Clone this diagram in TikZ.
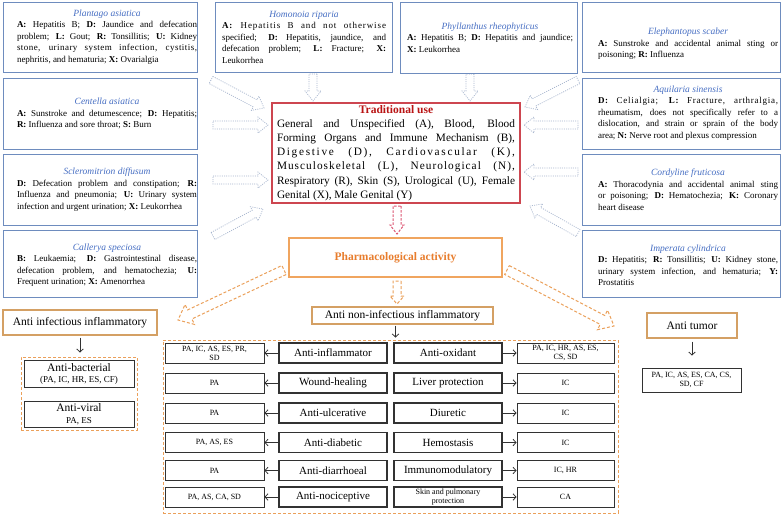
\documentclass[tikz,border=0pt]{standalone}
\usepackage{fontspec}
\setmainfont{Liberation Serif}
\usetikzlibrary{calc,arrows.meta,backgrounds}

\definecolor{spblue}{RGB}{110,140,190}
\definecolor{tblue}{RGB}{70,110,195}
\definecolor{tradred}{RGB}{205,70,80}
\definecolor{tradtitle}{RGB}{185,20,20}
\definecolor{phorange}{RGB}{240,165,95}
\definecolor{phtext}{RGB}{232,125,45}
\definecolor{tanbrd}{RGB}{212,160,100}
\definecolor{dashor}{RGB}{235,160,90}
\definecolor{arrgrey}{RGB}{165,180,205}
\definecolor{arrred}{RGB}{220,85,115}
\definecolor{boxdark}{RGB}{50,50,50}

\newcommand\blockarrow[6]{%
  \path ($(#3)!#6!(#2)$) coordinate (bahead);
  \filldraw[#1] ($(#2)!#4!90:(#3)$) -- ($(bahead)!#4!90:(#3)$) -- ($(bahead)!#5!90:(#3)$) -- (#3) -- ($(bahead)!#5!-90:(#3)$) -- ($(bahead)!#4!-90:(#3)$) -- ($(#2)!#4!-90:(#3)$) -- cycle;}

\newcommand\sptitle[1]{{\centering\fontsize{9.5}{11.5}\selectfont\color{tblue}\itshape #1\par}}

\tikzset{
  spbox/.style={draw=spblue, line width=1pt, fill=white, inner sep=0pt, anchor=north west},
  sptext/.style={inner sep=0pt, align=justify, font=\fontsize{9}{11.5}\selectfont,
    execute at begin node={\tolerance=10000\relax\hbadness=10000\relax\parindent=0pt\relax}},
  lab/.style={draw=tanbrd, line width=1.1pt, fill=white, inner sep=0pt, font=\fontsize{11.5}{13}\selectfont},
  grp/.style={draw=dashor, line width=1pt, dash pattern=on 3pt off 2pt, inner sep=0pt},
  res/.style={draw=boxdark, line width=0.9pt, fill=white, minimum height=20pt, inner sep=1pt, align=center, font=\fontsize{8}{9}\selectfont},
  act/.style={draw=boxdark, line width=1.2pt, fill=white, minimum height=20pt, minimum width=108pt, inner sep=1pt, align=center, font=\fontsize{11}{12}\selectfont},
  conn/.style={-{Straight Barb[length=3pt,width=6.5pt]}, line width=0.8pt, draw=boxdark},
  greyarr/.style={draw=arrgrey, line width=0.7pt, dash pattern=on 1pt off 1.2pt, fill=white},
  orarr/.style={draw=dashor, line width=1pt, dash pattern=on 3pt off 2pt, fill=white},
  redarr/.style={draw=arrred, line width=1pt, dash pattern=on 2.5pt off 1.5pt, fill=white}
}

\begin{document}
\begin{tikzpicture}[x=1pt,y=-1pt]
\useasboundingbox (0,0) rectangle (783,515);

% ---------- species boxes ----------
\node[spbox, minimum width=194pt, minimum height=70pt] (plantB) at (3,2) {};
\node[spbox, minimum width=194pt, minimum height=71pt] (centB) at (3,78) {};
\node[spbox, minimum width=194pt, minimum height=71pt] (sclerB) at (3,154) {};
\node[spbox, minimum width=194pt, minimum height=67pt] (callB) at (3,230) {};
\node[spbox, minimum width=177pt, minimum height=70pt] (homB) at (215,2) {};
\node[spbox, minimum width=177pt, minimum height=71pt] (phylB) at (400,2) {};
\node[spbox, minimum width=198pt, minimum height=70pt] (eleB) at (582,2) {};
\node[spbox, minimum width=198pt, minimum height=71pt] (aquB) at (582,78) {};
\node[spbox, minimum width=198pt, minimum height=71pt] (cordB) at (582,154) {};
\node[spbox, minimum width=198pt, minimum height=67pt] (impB) at (582,230) {};

\node[sptext, text width=180pt] (plantT) at (107,37) {\sptitle{Plantago asiatica}\textbf{A:} Hepatitis B; \textbf{D:} Jaundice and defecation\linebreak problem; \textbf{L:} Gout; \textbf{R:} Tonsillitis; \textbf{U:} Kidney\linebreak {\addfontfeature{LetterSpace=5}stone, urinary system infection, cystitis,}\linebreak nephritis, and hematuria; \textbf{X:} Ovarialgia};

\node[sptext, text width=180pt] (centT) at (107,113.5) {\sptitle{Centella asiatica}\textbf{A:} Sunstroke and detumescence; \textbf{D:} Hepatitis;\linebreak \textbf{R:} Influenza and sore throat; \textbf{S:} Burn};

\node[sptext, text width=180pt] (sclerT) at (107,189.5) {\sptitle{Scleromitrion diffusum}\textbf{D:} Defecation problem and constipation; \textbf{R:}\linebreak Influenza and pneumonia; \textbf{U:} Urinary system\linebreak infection and urgent urination; \textbf{X:} Leukorrhea};

\node[sptext, text width=180pt] (callT) at (107,265) {\sptitle{Callerya speciosa}\textbf{B:} Leukaemia; \textbf{D:} Gastrointestinal disease,\linebreak defecation problem, and hematochezia; \textbf{U:}\linebreak Frequent urination; \textbf{X:} Amenorrhea};

\node[sptext, text width=164pt] (homT) at (304,37) {\sptitle{Homonoia riparia}{\addfontfeature{LetterSpace=10}\textbf{A:} Hepatitis B and not otherwise}\linebreak specified; \textbf{D:} Hepatitis, jaundice, and\linebreak defecation problem; \textbf{L:} Fracture; \textbf{X:}\linebreak Leukorrhea};

\node[sptext, text width=166pt] (phylT) at (490,37.5) {\sptitle{Phyllanthus rheophyticus}\textbf{A:} Hepatitis B; \textbf{D:} Hepatitis and jaundice;\linebreak \textbf{X:} Leukorrhea};

\node[sptext, text width=180pt] (eleT) at (688,44) {\sptitle{Elephantopus scaber}\textbf{A:} Sunstroke and accidental animal sting or\linebreak poisoning; \textbf{R:} Influenza};

\node[sptext, text width=180pt] (aquT) at (688,113) {\sptitle{Aquilaria sinensis}{\addfontfeature{LetterSpace=8}\textbf{D:} Celialgia; \textbf{L:} Fracture, arthralgia,}\linebreak rheumatism, does not specifically refer to a\linebreak dislocation, and strain or sprain of the body\linebreak area; \textbf{N:} Nerve root and plexus compression};

\node[sptext, text width=180pt] (cordT) at (688,189.5) {\sptitle{Cordyline fruticosa}\textbf{A:} Thoracodynia and accidental animal sting\linebreak or poisoning; \textbf{D:} Hematochezia; \textbf{K:} Coronary\linebreak heart disease};

\node[sptext, text width=180pt] (impT) at (688,265) {\sptitle{Imperata cylindrica}\textbf{D:} Hepatitis; \textbf{R:} Tonsillitis; \textbf{U:} Kidney stone,\linebreak urinary system infection, and hematuria; \textbf{Y:}\linebreak Prostatitis};

% ---------- traditional use ----------
\node[draw=tradred, line width=1.1pt, fill=white, minimum width=248pt, minimum height=100pt,
      text width=238pt, inner xsep=5pt, inner ysep=1pt, align=justify,
      font=\fontsize{11.3}{14.2}\selectfont,
      execute at begin node={\tolerance=10000\relax\hbadness=10000\relax\parindent=0pt\relax}] (trad) at (396,153)
  {{\centering\fontsize{11.5}{14}\selectfont\bfseries\color{tradtitle}Traditional use\par}General and Unspecified (A), Blood, Blood\linebreak Forming Organs and Immune Mechanism (B),\linebreak {\addfontfeature{LetterSpace=15}Digestive (D), Cardiovascular (K),}\linebreak {\addfontfeature{LetterSpace=9}Musculoskeletal (L), Neurological (N),}\linebreak Respiratory (R), Skin (S), Urological (U), Female\linebreak Genital (X), Male Genital (Y)};

% ---------- pharmacological activity ----------
\node[draw=phorange, line width=1.1pt, fill=white, minimum width=213pt, minimum height=39pt,
      font=\fontsize{11.5}{13}\selectfont\bfseries, text=phtext] (pharm) at (395.5,257.5) {Pharmacological activity};

\node[lab, minimum width=154pt, minimum height=25pt] (infl) at (80,322.5) {Anti infectious inflammatory};
\node[lab, minimum width=181pt, minimum height=17pt] (nonin) at (402.5,315.5) {Anti non-infectious inflammatory};
\node[lab, minimum width=90pt, minimum height=25pt] (tumor) at (692,325.5) {Anti tumor};

% ---------- groups ----------
\node[grp, minimum width=116pt, minimum height=73pt] (grpL) at (79,393.5) {};
\node[grp, minimum width=455pt, minimum height=173pt] (grpR) at (390.5,426.5) {};

\node[res, minimum width=110pt, minimum height=27pt, inner sep=0pt, font=\fontsize{9}{11}\selectfont] (bact) at (79,373.5) {{\fontsize{11.5}{12}\selectfont Anti-bacterial}\\(PA, IC, HR, ES, CF)};
\node[res, minimum width=110pt, minimum height=26pt, inner sep=0pt, font=\fontsize{9}{11}\selectfont] (vir) at (79,414) {{\fontsize{11.5}{12}\selectfont Anti-viral}\\[1pt]PA, ES};

\node[res, minimum width=99pt, minimum height=24pt] (tumres) at (691.5,380) {PA, IC, AS, ES, CA, CS,\\SD, CF};

% ---------- rows ----------
\node[res, minimum width=99pt] (r1a) at (214.5,353) {PA, IC, AS, ES, PR,\\SD};
\node[act] (r1b) at (333,353) {Anti-inflammator};
\node[act] (r1c) at (448,353) {Anti-oxidant};
\node[res, minimum width=97pt] (r1d) at (565.5,353) {PA, IC, HR, AS, ES,\\CS, SD};

\node[res, minimum width=99pt] (r2a) at (214.5,383) {PA};
\node[act] (r2b) at (333,383) {Wound-healing};
\node[act] (r2c) at (448,383) {Liver protection};
\node[res, minimum width=97pt] (r2d) at (565.5,383) {IC};

\node[res, minimum width=99pt] (r3a) at (214.5,413) {PA};
\node[act] (r3b) at (333,413) {Anti-ulcerative};
\node[act] (r3c) at (448,413) {Diuretic};
\node[res, minimum width=97pt] (r3d) at (565.5,413) {IC};

\node[res, minimum width=99pt] (r4a) at (214.5,442.5) {PA, AS, ES};
\node[act] (r4b) at (333,442.5) {Anti-diabetic};
\node[act] (r4c) at (448,442.5) {Hemostasis};
\node[res, minimum width=97pt] (r4d) at (565.5,442.5) {IC};

\node[res, minimum width=99pt] (r5a) at (214.5,470.5) {PA};
\node[act] (r5b) at (333,470.5) {Anti-diarrhoeal};
\node[act] (r5c) at (448,470.5) {Immunomodulatory};
\node[res, minimum width=97pt] (r5d) at (565.5,470.5) {IC, HR};

\node[res, minimum width=99pt] (r6a) at (214.5,497) {PA, AS, CA, SD};
\node[act] (r6b) at (333,497) {Anti-nociceptive};
\node[act, font=\fontsize{8}{9.5}\selectfont] (r6c) at (448,497) {Skin and pulmonary\\protection};
\node[res, minimum width=97pt] (r6d) at (565.5,497) {CA};

\foreach \r in {1,...,6}{
  \draw[conn] (r\r b.west) -- (r\r a.east);
  \draw[conn] (r\r c.east) -- (r\r d.west);
}

\draw[conn, shorten <=2pt, shorten >=4pt] (infl.south) -- (infl.south |- grpL.north);
\draw[conn, shorten <=1pt, shorten >=2pt] (pharm.south |- nonin.south) -- (pharm.south |- grpR.north);
\draw[conn, shorten <=3pt, shorten >=12pt] (tumor.south) -- (tumor.south |- tumres.north);

% ---------- block arrows ----------
\begin{scope}[on background layer]
  \fill[white] (0,0) rectangle (783,515);
  \coordinate (g1a) at (211,80);  \coordinate (g1b) at (264,108);
  \coordinate (g2a) at (313,74);  \coordinate (g2b) at (313,101);
  \coordinate (g3a) at (470,74);  \coordinate (g3b) at (470,101);
  \coordinate (g4a) at (578,80);  \coordinate (g4b) at (525,107);
  \coordinate (g5a) at (213,125); \coordinate (g5b) at (268,125);
  \coordinate (g6a) at (578,125); \coordinate (g6b) at (524,125);
  \coordinate (g7a) at (213,180); \coordinate (g7b) at (268,180);
  \coordinate (g8a) at (578,172); \coordinate (g8b) at (524,172);
  \coordinate (g9a) at (213,236); \coordinate (g9b) at (263,209);
  \coordinate (g10a) at (578,233); \coordinate (g10b) at (530,206);
  \foreach \i in {1,...,10}{\blockarrow{greyarr}{g\i a}{g\i b}{4pt}{8pt}{10pt}}
  \coordinate (ra) at (397,206); \coordinate (rb) at (397,234);
  \blockarrow{redarr}{ra}{rb}{4pt}{7pt}{9pt}
  \coordinate (oma) at (397,281); \coordinate (omb) at (397,304);
  \blockarrow{orarr}{oma}{omb}{4pt}{7pt}{8pt}
  \coordinate (ola) at (284,270); \coordinate (olb) at (178,320);
  \blockarrow{orarr}{ola}{olb}{5pt}{11pt}{13pt}
  \coordinate (ora) at (507,270); \coordinate (orb) at (614,326);
  \blockarrow{orarr}{ora}{orb}{5pt}{11pt}{13pt}
\end{scope}
\end{tikzpicture}
\end{document}
